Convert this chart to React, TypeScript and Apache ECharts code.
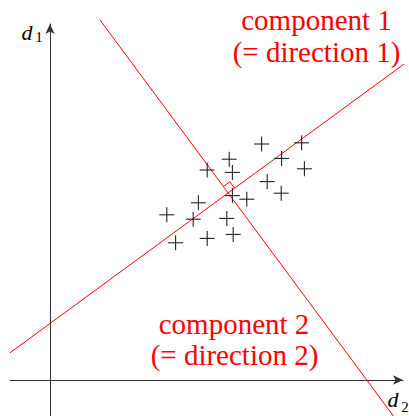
import React, { useEffect, useRef } from "react";
import * as echarts from "echarts";

// Observations (d2 = horizontal, d1 = vertical), in axis units
const pointsD2 = [5.29, 6.29, 5.79, 6.36, 4.48, 3.93, 4.56, 5.43, 5.78, 4.56, 4.92, 3.71, 2.92, 3.58, 4.42, 3.14, 3.93, 4.58];
const pointsD1 = [5.9, 5.93, 5.54, 5.28, 5.52, 5.25, 5.19, 4.96, 4.67, 4.61, 4.52, 4.43, 4.13, 4.02, 4.04, 3.43, 3.54, 3.64];

// Principal component lines (two endpoints each, [d2, d1])
const component1Line = [[-1, 0.68], [8.975, 7.99]];
const component2Line = [[1.25, 9.0], [8.585, -0.9]];

// Axis ranges
const d2Range = [-1, 8.825];
const d1Range = [-0.9, 8.9];

const component1Text = ["component 1", "(= direction 1)"];
const component2Text = ["component 2", "(= direction 2)"];

export default function App() {
  const ref = useRef<HTMLDivElement>(null);

  useEffect(() => {
    if (!ref.current) return;
    const chart = echarts.init(ref.current, undefined, { renderer: "svg" });
    const points = pointsD2.map((x, i) => [x, pointsD1[i]]);
    const red = "#ff0000";
    const serif = "Liberation Serif";
    const axisColor = "#333";

    const axisCommon = {
      type: "value" as const,
      axisTick: { show: false },
      axisLabel: { show: false },
      splitLine: { show: false },
      axisLine: {
        show: true,
        onZero: true,
        symbol: ["none", "arrow"],
        symbolSize: [7, 10],
        lineStyle: { color: axisColor, width: 1 },
      },
    };

    const txt = (x: number, y: number, text: string, fill: string, size: number, italic = false) => ({
      type: "text",
      x,
      y,
      style: {
        text,
        fill,
        fontFamily: serif,
        fontSize: size,
        fontStyle: italic ? "italic" : "normal",
        align: "center",
        verticalAlign: "middle",
      },
    });

    chart.setOption({
      animation: false,
      grid: { left: 10, right: 6, top: 24, bottom: 0, containLabel: false },
      xAxis: { ...axisCommon, min: d2Range[0], max: d2Range[1] },
      yAxis: { ...axisCommon, min: d1Range[0], max: d1Range[1] },
      graphic: [
        txt(316.5, 19.5, component1Text[0], red, 29),
        txt(316.5, 51.9, component1Text[1], red, 29),
        txt(234, 323.5, component2Text[0], red, 29),
        txt(234.5, 355.2, component2Text[1], red, 29),
        txt(27, 32, "d", "#000", 22, true),
        txt(39, 37, "1", "#000", 15),
        txt(393, 399, "d", "#000", 22, true),
        txt(405, 407, "2", "#000", 15),
      ],
      series: [
        {
          type: "line",
          data: component1Line,
          showSymbol: false,
          clip: false,
          lineStyle: { color: red, width: 1 },
          z: 3,
        },
        {
          type: "line",
          data: component2Line,
          showSymbol: false,
          clip: false,
          lineStyle: { color: red, width: 1 },
          z: 3,
        },
        {
          type: "custom",
          data: [0],
          clip: false,
          z: 4,
          renderItem: (_params: any, api: any) => {
            const a1 = api.coord(component1Line[0]);
            const a2 = api.coord(component1Line[1]);
            const b1 = api.coord(component2Line[0]);
            const b2 = api.coord(component2Line[1]);
            const d1x = a2[0] - a1[0], d1y = a2[1] - a1[1];
            const d2x = b2[0] - b1[0], d2y = b2[1] - b1[1];
            const den = d1x * d2y - d1y * d2x;
            const t = ((b1[0] - a1[0]) * d2y - (b1[1] - a1[1]) * d2x) / den;
            const ix = a1[0] + t * d1x, iy = a1[1] + t * d1y;
            const l1 = Math.hypot(d1x, d1y), l2 = Math.hypot(d2x, d2y);
            const s = 8;
            const u = [(d1x / l1) * s, (d1y / l1) * s];
            const v = [(-d2x / l2) * s, (-d2y / l2) * s];
            return {
              type: "polyline",
              shape: {
                points: [
                  [ix + u[0], iy + u[1]],
                  [ix + u[0] + v[0], iy + u[1] + v[1]],
                  [ix + v[0], iy + v[1]],
                ],
              },
              style: { stroke: red, fill: "none", lineWidth: 1 },
            };
          },
        },
        {
          type: "custom",
          data: points,
          clip: false,
          z: 5,
          renderItem: (_params: any, api: any) => {
            const p = api.coord([api.value(0), api.value(1)]);
            const h = 7.5;
            const st = { stroke: "#222", lineWidth: 1.1 };
            return {
              type: "group",
              children: [
                { type: "line", shape: { x1: p[0] - h, y1: p[1], x2: p[0] + h, y2: p[1] }, style: st },
                { type: "line", shape: { x1: p[0], y1: p[1] - h, x2: p[0], y2: p[1] + h }, style: st },
              ],
            };
          },
        },
      ],
    });
    return () => chart.dispose();
  }, []);

  return (
    <div
      ref={ref}
      style={{ position: "fixed", left: 0, top: 0, width: 409, height: 416, background: "#fff" }}
    />
  );
}
